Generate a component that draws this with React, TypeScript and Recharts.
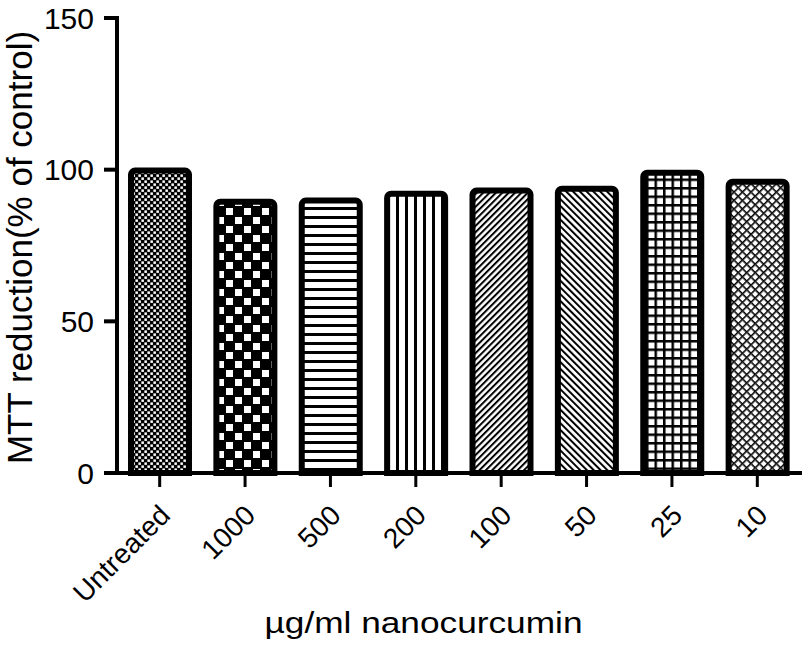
import React from 'react';
import { BarChart, Bar, XAxis, YAxis, Cell, Label } from 'recharts';

const categories = ['Untreated', '1000', '500', '200', '100', '50', '25', '10'];
const values = [99.7, 89.4, 89.8, 92.1, 93.1, 93.7, 99.0, 96.0];
const yTicks = [0, 50, 100, 150];
const patternIds = ['pUnt', 'p1000', 'p500', 'p200', 'p100', 'p50', 'p25', 'p10'];

const data = categories.map((c, i) => ({ name: c, value: values[i] }));

const FONT = '"Liberation Sans", Arial, Helvetica, sans-serif';

const XTick = (props: any) => {
  const { x, y, payload } = props;
  return (
    <g transform={`translate(${x + 12},${y + 28})`}>
      <text x={0} y={0} textAnchor="end" transform="rotate(-45)" fontSize={28} fontFamily={FONT} fill="#000">
        {payload.value}
      </text>
    </g>
  );
};

const Patterns = () => (
  <svg width="0" height="0" style={{ position: 'absolute' }}>
    <defs>
      <pattern id="pUnt" width="6" height="6" patternUnits="userSpaceOnUse">
        <rect width="6" height="6" fill="#000" />
        <rect x="0.4" y="0.4" width="2.5" height="2.5" fill="#fff" />
        <rect x="3.4" y="3.4" width="2.5" height="2.5" fill="#fff" />
      </pattern>
      <pattern id="p1000" width="18" height="18" patternUnits="userSpaceOnUse">
        <rect width="18" height="18" fill="#000" />
        <rect x="1" y="1" width="7" height="7" fill="#fff" />
        <rect x="10" y="10" width="7" height="7" fill="#fff" />
      </pattern>
      <pattern id="p500" width="9" height="9" patternUnits="userSpaceOnUse">
        <rect width="9" height="9" fill="#fff" />
        <rect width="9" height="3" fill="#000" />
      </pattern>
      <pattern id="p200" width="9" height="9" patternUnits="userSpaceOnUse">
        <rect width="9" height="9" fill="#fff" />
        <rect width="3" height="9" fill="#000" />
      </pattern>
      <pattern id="p100" width="4.5" height="4.5" patternUnits="userSpaceOnUse" patternTransform="rotate(45)">
        <rect width="4.5" height="4.5" fill="#fff" />
        <rect width="2" height="4.5" fill="#000" />
      </pattern>
      <pattern id="p50" width="4.8" height="4.8" patternUnits="userSpaceOnUse" patternTransform="rotate(-45)">
        <rect width="4.8" height="4.8" fill="#fff" />
        <rect width="2" height="4.8" fill="#000" />
      </pattern>
      <pattern id="p25" width="8.5" height="8.5" patternUnits="userSpaceOnUse">
        <rect width="8.5" height="8.5" fill="#000" />
        <rect x="2.5" y="2.5" width="6" height="6" fill="#fff" />
      </pattern>
      <pattern id="p10" width="6" height="6" patternUnits="userSpaceOnUse" patternTransform="rotate(45)">
        <rect width="6" height="6" fill="#fff" />
        <rect width="1.6" height="6" fill="#000" />
        <rect x="1.6" y="0" width="4.4" height="1.6" fill="#000" />
      </pattern>
    </defs>
  </svg>
);

export default function App() {
  return (
    <div style={{ position: 'absolute', left: 0, top: 0, width: 810, height: 648, background: '#fff' }}>
      <Patterns />
      <BarChart
        width={810}
        height={648}
        data={data}
        margin={{ top: 18, right: 10, left: 0, bottom: 0 }}
        style={{ fontFamily: FONT }}
      >
        <XAxis
          dataKey="name"
          height={175}
          interval={0}
          axisLine={{ stroke: '#000', strokeWidth: 4, strokeLinecap: 'square' }}
          tickLine={{ stroke: '#000', strokeWidth: 3 }}
          tickSize={14}
          tick={<XTick />}
        >
          <Label
            content={(props: any) => {
              const vb = props.viewBox;
              const cx = vb.x + vb.width / 2 - 35;
              const cy = vb.y + 160;
              return (
                <text
                  x={cx}
                  y={cy}
                  textAnchor="middle"
                  fontSize={30}
                  fontFamily={FONT}
                  fill="#000"
                  textLength={318}
                  lengthAdjust="spacingAndGlyphs"
                >
                  µg/ml nanocurcumin
                </text>
              );
            }}
          />
        </XAxis>
        <YAxis
          width={117}
          domain={[0, 150]}
          ticks={yTicks}
          interval={0}
          axisLine={{ stroke: '#000', strokeWidth: 4, strokeLinecap: 'square' }}
          tickLine={{ stroke: '#000', strokeWidth: 4 }}
          tickSize={13}
          tickMargin={10}
          tick={{ fill: '#000', fontSize: 30, fontFamily: FONT }}
        >
          <Label
            content={(props: any) => {
              const vb = props.viewBox;
              const cx = vb.x + 19;
              const cy = vb.y + vb.height / 2 + 2;
              return (
                <text
                  x={cx}
                  y={cy}
                  transform={`rotate(-90 ${cx} ${cy})`}
                  textAnchor="middle"
                  dominantBaseline="central"
                  fontSize={35}
                  fontFamily={FONT}
                  fill="#000"
                >
                  MTT reduction(% of control)
                </text>
              );
            }}
          />
        </YAxis>
        <Bar dataKey="value" barSize={58} stroke="#000" strokeWidth={6} radius={[4, 4, 0, 0]} isAnimationActive={false}>
          {data.map((d, i) => (
            <Cell key={d.name} fill={`url(#${patternIds[i]})`} />
          ))}
        </Bar>
      </BarChart>
    </div>
  );
}
